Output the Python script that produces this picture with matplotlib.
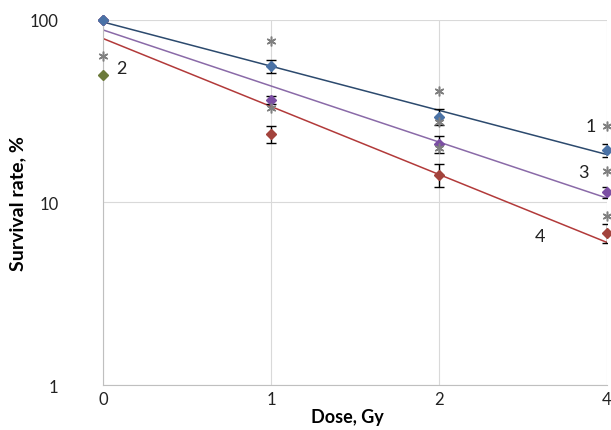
import numpy as np
import matplotlib.pyplot as plt

plt.rcParams['font.family'] = ['Lato', 'DejaVu Sans']

# categories on the dose axis (equally spaced, like a category axis)
doses = ['0', '1', '2', '4']
pos = np.arange(len(doses))

# survival rate, %
surv1 = [100, 56.0, 29.5, 19.3]
err1 = [0, 4.6, 3.0, 1.5]
surv3 = [100, 36.5, 20.9, 11.4]
err3 = [0, 2.0, 2.2, 0.8]
surv4 = [100, 23.7, 14.2, 6.8]
err4 = [0, 2.5, 2.0, 0.8]
surv2 = [50]

# significance asterisks
star_x = [0, 1, 1, 2, 2, 2, 3, 3, 3]
star_y = [63.5, 76.7, 33.0, 40.8, 27.6, 19.9, 26.2, 14.9, 8.4]

# series labels: text, x, y
labels = [('1', 2.90, 26.2), ('2', 0.11, 54.6), ('3', 2.86, 14.7), ('4', 2.60, 6.55)]

fig = plt.figure(figsize=(6.11, 4.31), dpi=100)
ax = fig.add_axes([0.1686, 0.1044, 0.8249, 0.8469])
ax.set_yscale('log')


def trend(y):
    # exponential trend line like Excel's
    k, b = np.polyfit(pos, np.log10(y), 1)
    xx = np.array([pos[0], pos[-1]])
    return xx, 10 ** (k * xx + b)


series = [
    (surv1, err1, '#2c4a6e', '#4a72a6'),
    (surv3, err3, '#8a6aa8', '#7b4ea3'),
    (surv4, err4, '#b23a3a', '#a3433c'),
]
for y, e, lc, mc in series:
    xx, yy = trend(y)
    ax.plot(xx, yy, color=lc, lw=1.1, zorder=2)
for y, e, lc, mc in reversed(series):
    ax.errorbar(pos, y, yerr=e, fmt='none', ecolor='black', elinewidth=1.0,
                capsize=3.5, capthick=1.0, zorder=3)
    ax.plot(pos, y, ls='none', marker='D', ms=5, color=mc, zorder=4,
            clip_on=False)
ax.plot(pos[:1], surv2, ls='none', marker='D', ms=5, color='#6b7a3a',
        zorder=4, clip_on=False)

ax.plot(star_x, star_y, ls='none', marker=(6, 2, 0), ms=7, mew=1.1,
        color='#808080', zorder=5, clip_on=False)

for t, x, y in labels:
    ax.text(x, y, t, fontsize=13, ha='center', va='center', color='#222222')

ax.set_xlim(0, 3)
ax.set_ylim(1, 100)
ax.set_xticks(pos)
ax.set_xticklabels(doses)
ax.set_yticks([1, 10, 100])
ax.set_yticklabels(['1', '10', '100'])
ax.minorticks_off()
ax.tick_params(length=0, labelsize=12, colors='#222222')
ax.tick_params(axis='y', pad=32)
ax.tick_params(axis='x', pad=4)

ax.grid(True, color='#d9d9d9', lw=0.8)
ax.set_axisbelow(True)
for s in ['top', 'right']:
    ax.spines[s].set_visible(False)
for s in ['left', 'bottom']:
    ax.spines[s].set_color('#bfbfbf')
    ax.spines[s].set_linewidth(0.8)

ax.set_xlabel('Dose, Gy', fontsize=13, fontweight='bold', va='center')
ax.xaxis.set_label_coords(0.485, -0.085)
ax.set_ylabel('Survival rate, %', fontsize=14, fontweight='bold')
ax.yaxis.set_label_coords(-0.152, 0.5)

fig.savefig('out.png', dpi=100)
